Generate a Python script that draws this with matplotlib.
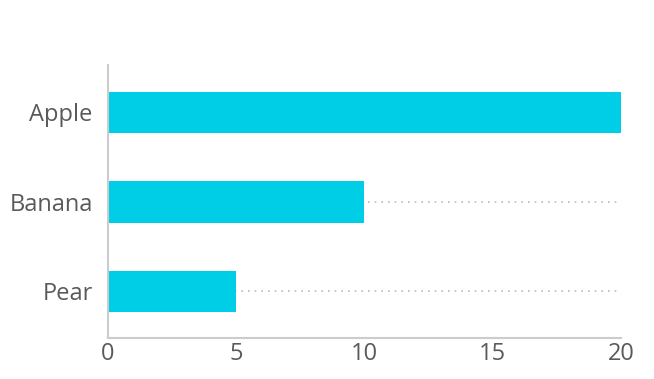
import matplotlib.pyplot as plt

fruits = ['Apple', 'Banana', 'Pear']
counts = [20, 10, 5]
xticks = [0, 5, 10, 15, 20]

plt.rcParams['font.family'] = ['Open Sans', 'DejaVu Sans']

fig = plt.figure(figsize=(6.54, 3.79), dpi=100)
ax = fig.add_axes([0.1651, 0.1082, 0.7844, 0.7203])

ypos = list(range(len(fruits)))
for y in ypos:
    ax.plot([0, 19.85], [y, y], color='#bbbbbb', linestyle=(0, (1, 3)),
            linewidth=1.2, zorder=1)
ax.barh(ypos, counts, height=0.46, color='#00cee6', zorder=2)

ax.set_yticks(ypos)
ax.set_yticklabels(fruits)
ax.set_xticks(xticks)
ax.set_xlim(0, 20)
ax.set_ylim(2.52, -0.53)

for side in ['top', 'right']:
    ax.spines[side].set_visible(False)
for side in ['left', 'bottom']:
    ax.spines[side].set_color('#cccccc')
    ax.spines[side].set_linewidth(1.5)
ax.tick_params(length=0, labelsize=17, labelcolor='#5a5a5a')
ax.tick_params(axis='y', pad=11)
ax.tick_params(axis='x', pad=3)

fig.savefig('out.png', dpi=100)
